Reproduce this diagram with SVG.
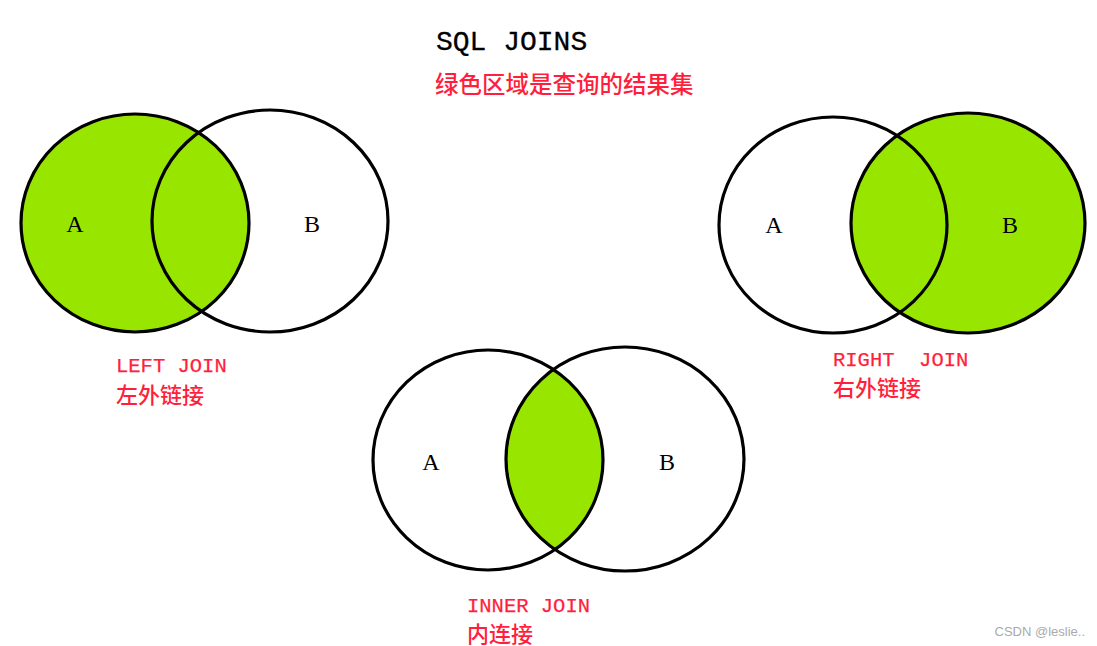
<svg xmlns="http://www.w3.org/2000/svg" width="1097" height="646" viewBox="0 0 1097 646">
<style>
.c{fill:none;stroke:#000;stroke-width:3.2}
.g{fill:#98e600}
.t{font-family:"Liberation Mono",monospace;fill:#ff1f3d;stroke:#ff1f3d;stroke-width:0.25}
.cn{font-family:"Noto Sans CJK SC",sans-serif;fill:#ff1f3d;font-weight:500}
.l{font-family:"Liberation Serif",serif;font-size:24px;fill:#000}
</style>
<defs>
<clipPath id="clipA"><ellipse cx="488" cy="460" rx="115" ry="110"/></clipPath>
</defs>
<rect width="1097" height="646" fill="#fff"/>
<g id="title">
<text x="436" y="50" font-family="Liberation Mono,monospace" font-size="28" fill="#000" stroke="#000" stroke-width="0.3">SQL JOINS</text>
<text x="435" y="93" class="cn" font-size="23.5" font-weight="bold">绿色区域是查询的结果集</text>
</g>
<g id="left-join">
<ellipse class="g" cx="135" cy="223" rx="114" ry="109"/>
<ellipse class="c" cx="135" cy="223" rx="114" ry="109"/>
<ellipse class="c" cx="270" cy="221" rx="118" ry="111"/>
<text class="l" x="75" y="232" text-anchor="middle">A</text>
<text class="l" x="312" y="232" text-anchor="middle">B</text>
<text class="t" x="116" y="372" font-size="20.5">LEFT JOIN</text>
<text class="cn" x="116" y="403" font-size="22">左外链接</text>
</g>
<g id="right-join">
<ellipse class="g" cx="968" cy="223" rx="117" ry="110"/>
<ellipse class="c" cx="833" cy="225" rx="114" ry="108"/>
<ellipse class="c" cx="968" cy="223" rx="117" ry="110"/>
<text class="l" x="774" y="233" text-anchor="middle">A</text>
<text class="l" x="1010" y="233" text-anchor="middle">B</text>
<text class="t" x="833" y="366" font-size="20.5" xml:space="preserve">RIGHT  JOIN</text>
<text class="cn" x="833" y="396" font-size="22">右外链接</text>
</g>
<g id="inner-join">
<ellipse class="g" cx="625" cy="459" rx="119" ry="112" clip-path="url(#clipA)"/>
<ellipse class="c" cx="488" cy="460" rx="115" ry="110"/>
<ellipse class="c" cx="625" cy="459" rx="119" ry="112"/>
<text class="l" x="431" y="470" text-anchor="middle">A</text>
<text class="l" x="667" y="470" text-anchor="middle">B</text>
<text class="t" x="467" y="612" font-size="20.5">INNER JOIN</text>
<text class="cn" x="467" y="642" font-size="22">内连接</text>
</g>
<g id="connectors"/>
<text x="1085" y="636" text-anchor="end" font-family="Liberation Sans,sans-serif" font-size="13" fill="#aaa">CSDN @leslie..</text>
</svg>
